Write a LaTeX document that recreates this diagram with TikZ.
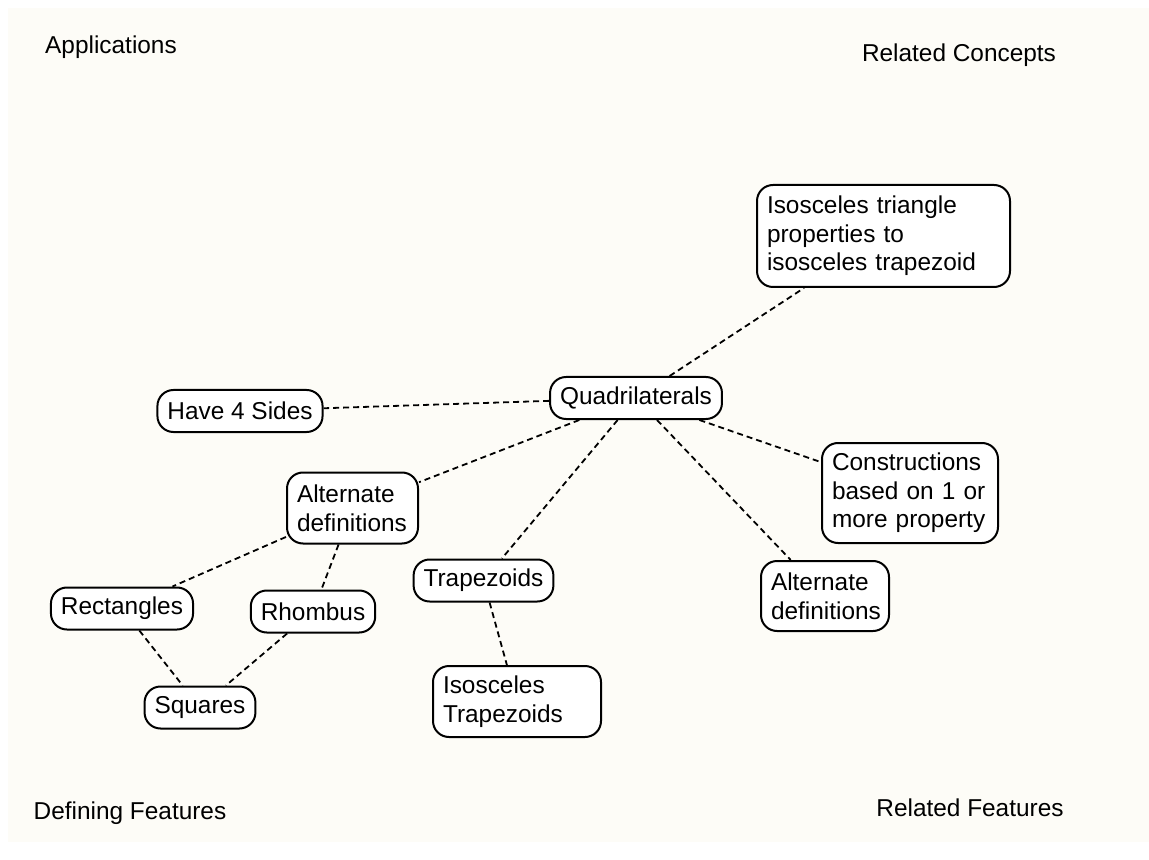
\documentclass[tikz,border=0pt]{standalone}
\usepackage{fontspec}
\setmainfont{Liberation Sans}
\begin{document}
\begin{tikzpicture}[x=0.5pt,y=-0.5pt,
  every node/.style={font=\fontsize{12.2}{14.3}\selectfont},
  concept/.style={draw=black, line width=1pt, fill=white, rounded corners=8pt,
    inner xsep=5pt, inner ysep=0pt, minimum height=21pt},
  multi/.style={concept, align=left, inner xsep=5pt},
  link/.style={draw=black, line width=0.9pt, dash pattern=on 3pt off 2pt},
  corner/.style={inner sep=0pt}]
  % page and paper background
  \fill[white] (0,0) rectangle (1149,860);
  \fill[fill={rgb,255:red,253;green,252;blue,247}] (8,8) rectangle (1149,842);
  \useasboundingbox (0,0) rectangle (1149,860);

  % quadrant headings
  \node[corner] (app) at (111,47) {Applications};
  \node[corner] (rc)  at (959,55) {Related Concepts};
  \node[corner] (df)  at (130,813) {Defining Features};
  \node[corner] (rf)  at (970,808) {Related Features};

  % concept boxes
  \node[concept, minimum width=84.5pt] (quad) at (636,398) {Quadrilaterals};
  \node[multi, text width=116.5pt, minimum height=51pt] (itri) at (883.5,236)
    {Isosceles triangle\\properties to\\isosceles trapezoid};
  \node[concept, minimum width=81pt] (have) at (240,411) {Have 4 Sides};
  \node[multi, text width=55.5pt, minimum height=35.5pt] (altl) at (352.5,508)
    {Alternate\\definitions};
  \node[concept, minimum width=71pt] (rect) at (122,608.5) {Rectangles};
  \node[concept, minimum width=61pt] (rhom) at (313,611.5) {Rhombus};
  \node[concept, minimum width=53pt] (sq) at (200,707.5) {Squares};
  \node[concept, minimum width=68.5pt] (trap) at (483.5,580.5) {Trapezoids};
  \node[multi, text width=74pt, minimum height=35.5pt] (itrap) at (517,701.5)
    {Isosceles\\Trapezoids};
  \node[multi, text width=78pt, minimum height=50pt] (cons) at (910,493)
    {Constructions\\based on 1 or\\more property};
  \node[multi, text width=54pt, minimum height=35pt] (altr) at (825,596)
    {Alternate\\definitions};

  % connectors
  \path[link] (quad) -- (itri);
  \path[link] (quad) -- (have);
  \path[link] (quad) -- (altl);
  \path[link] (quad) -- (trap);
  \path[link] (quad) -- (cons);
  \path[link] (quad) -- (altr);
  \path[link] (altl) -- (rect);
  \path[link] (altl) -- (rhom);
  \path[link] (rect) -- (sq);
  \path[link] (rhom) -- (sq);
  \path[link] (trap) -- (itrap);
\end{tikzpicture}
\end{document}
